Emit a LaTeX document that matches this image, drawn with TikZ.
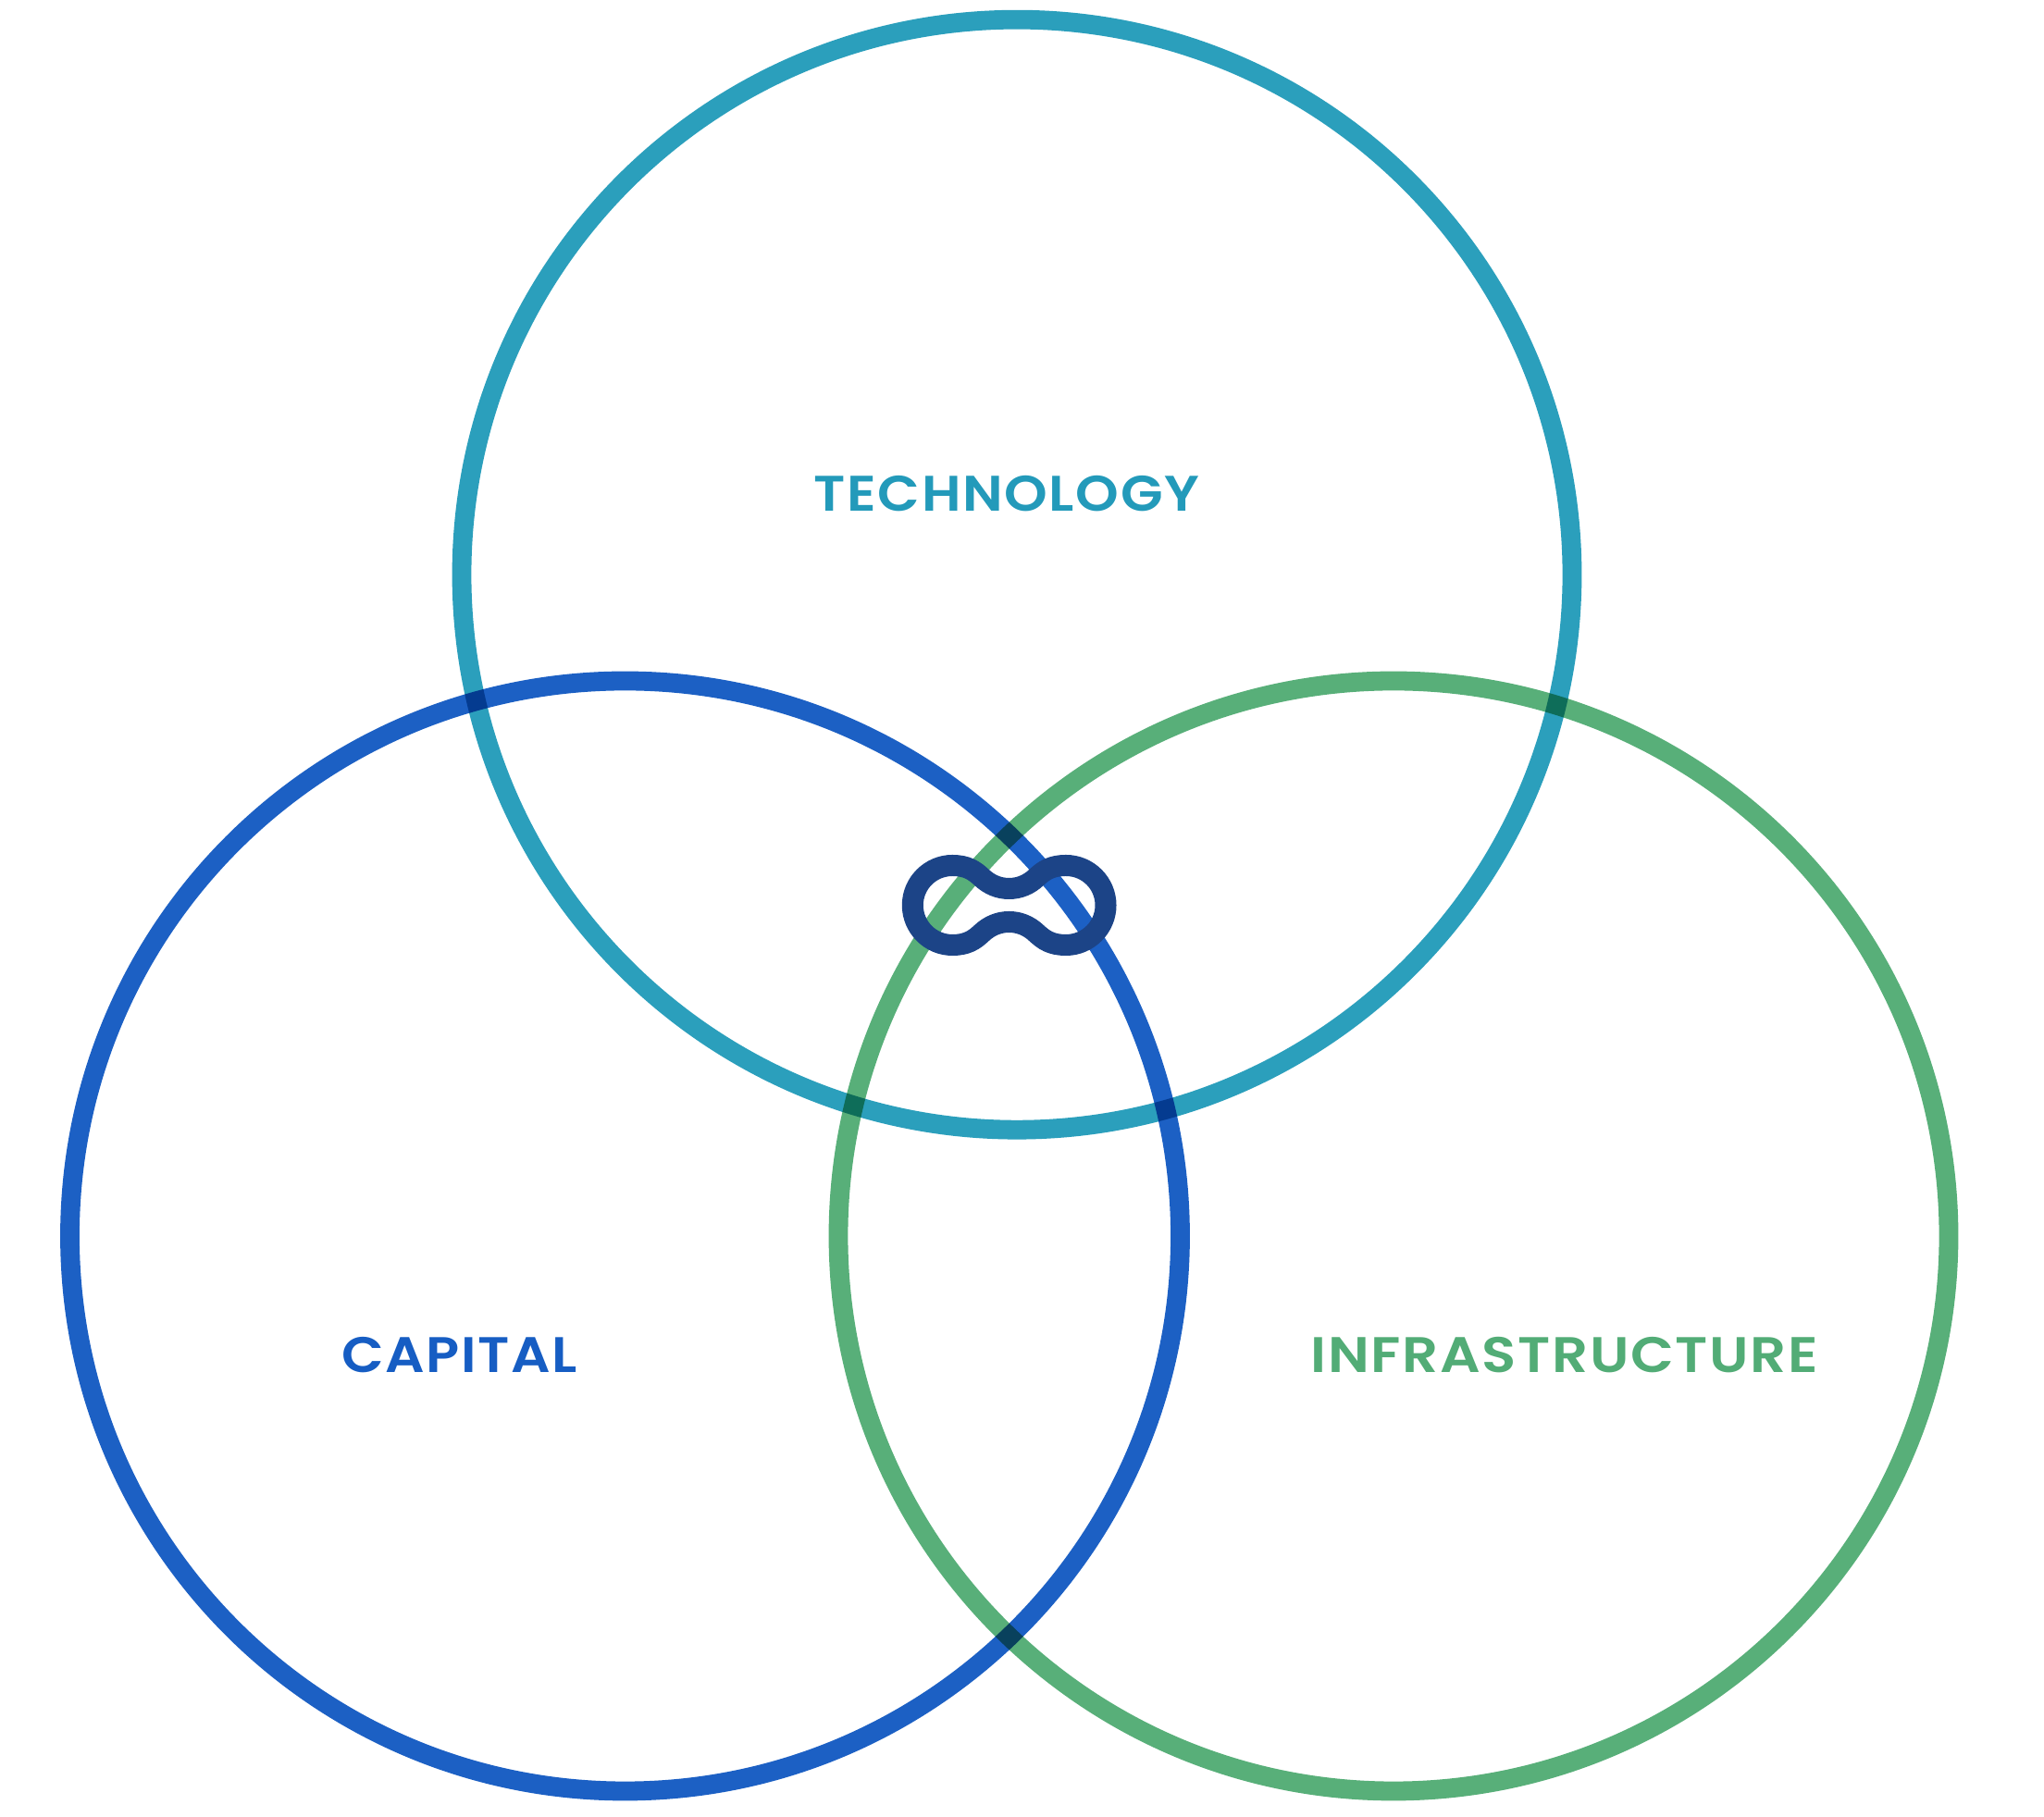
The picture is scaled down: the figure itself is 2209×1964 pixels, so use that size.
\documentclass[tikz,border=0pt]{standalone}
\usepackage{fontspec}
\newfontfamily\labelfont[LetterSpace=3,FakeStretch=1.1,BoldFont={Poppins SemiBold}]{Poppins}
\definecolor{techblue}{HTML}{2B9FBC}
\definecolor{capblue}{HTML}{1C60C4}
\definecolor{infgreen}{HTML}{58AF79}
\definecolor{knotblue}{HTML}{1C4487}
\definecolor{techtext}{HTML}{239ABA}
\definecolor{captext}{HTML}{165DC3}
\definecolor{inftext}{HTML}{52AC76}
\tikzset{
  ring/.style={circle,draw=#1,line width=20.8pt,inner sep=0pt,outer sep=0pt,minimum size=1200pt},
  tag/.style={text=#1,inner sep=0pt,font=\labelfont\bfseries\fontsize{54}{54}\selectfont}
}

\begin{document}
\begin{tikzpicture}[x=1pt,y=1pt]
\useasboundingbox (0,0) rectangle (2209,1964);
\fill[white] (0,0) rectangle (2209,1964);
\begin{scope}[blend mode=multiply]
\node[ring=techblue] (technology) at (1099,1342.8) {};
\node[ring=capblue] (capital) at (675.5,628) {};
\node[ring=infgreen] (infrastructure) at (1506,628) {};
\end{scope}
% knot in the middle
\draw[knotblue,line width=23pt] (1029.3,1028.5) arc[start angle=90,end angle=270,radius=43]
  .. controls (1045,942.5) and (1053,948) .. (1061,955.5)
  .. controls (1069,963) and (1079,967.5) .. (1090.5,967.5)
  .. controls (1102,967.5) and (1112,963) .. (1120,955.5)
  .. controls (1128,948) and (1136,942.5) .. (1152,942.5)
  arc[start angle=-90,end angle=90,radius=43]
  .. controls (1136,1028.5) and (1128,1023) .. (1120,1015.5)
  .. controls (1112,1008) and (1102,1003.5) .. (1090.5,1003.5)
  .. controls (1079,1003.5) and (1069,1008) .. (1061,1015.5)
  .. controls (1053,1023) and (1045,1028.5) .. cycle;
\node[tag=techtext] (technologytag) at (1088,1430) {TECHNOLOGY};
\node[tag=captext] (capitaltag) at (496.7,499) {CAPITAL};
\node[tag=inftext,xscale=1.026,transform shape] (infrastructuretag) at (1691,499) {INFRASTRUCTURE};
\end{tikzpicture}
\end{document}
